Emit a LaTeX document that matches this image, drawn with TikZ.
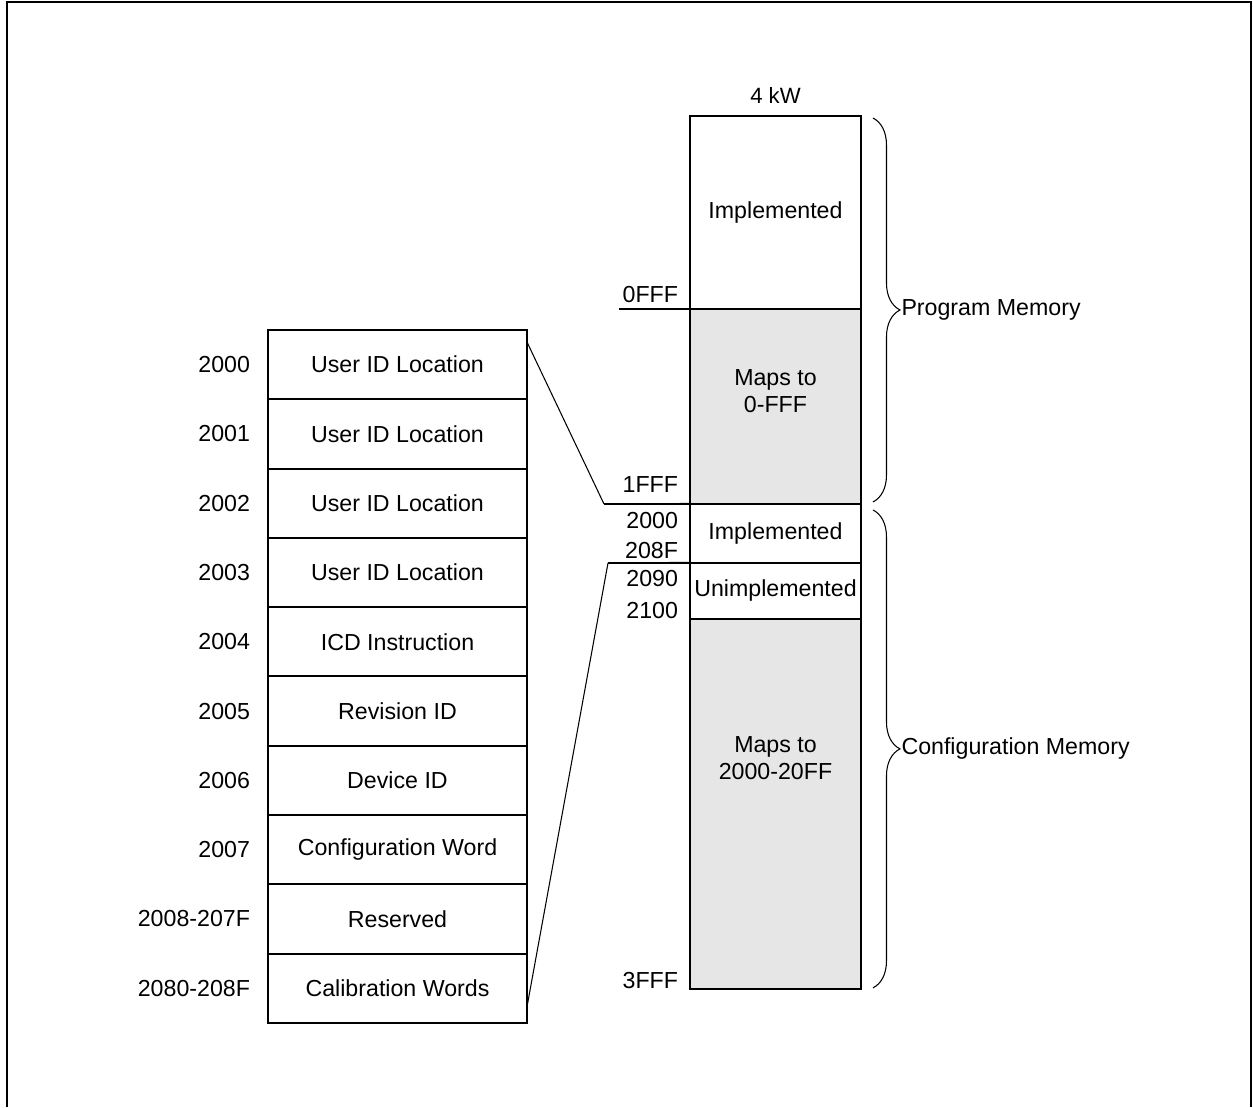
\documentclass[tikz,border=0pt]{standalone}
\usepackage{fontspec}
\setmainfont{Liberation Sans}
\usetikzlibrary{positioning, decorations.pathreplacing}
\definecolor{mapgray}{HTML}{E6E6E6}

\begin{document}
\begin{tikzpicture}[x=0.02cm, y=-0.02cm, node distance=0pt,
  every node/.style={font=\fontsize{13.2}{15.4}\selectfont},
  cell/.style={draw, line width=1.1pt, outer sep=0pt, inner sep=0pt, minimum width=5.18cm, minimum height=1.386cm},
  blk/.style={draw, line width=1.1pt, outer sep=0pt, inner sep=0pt, minimum width=3.42cm},
  mapped/.style={fill=mapgray},
  addr/.style={inner sep=0pt, outer sep=0pt},
  bar/.style={line width=1.1pt},
  link/.style={line width=0.6pt},
  brc/.style={decorate, decoration={brace, amplitude=0.54cm}, line width=0.6pt}]
  \useasboundingbox (0,0) rectangle (1253,1107);
  \draw[line width=1.1pt] (7,1107) -- (7,2) -- (1251,2) -- (1251,1107);

  \node[cell] (r0) at (397.5,364.65) {User ID Location};
  \node[cell, below=of r0] (r1) {User ID Location};
  \node[cell, below=of r1] (r2) {User ID Location};
  \node[cell, below=of r2] (r3) {User ID Location};
  \node[cell, below=of r3] (r4) {ICD Instruction};
  \node[cell, below=of r4] (r5) {Revision ID};
  \node[cell, below=of r5] (r6) {Device ID};
  \node[cell, below=of r6] (r7) {Configuration Word};
  \node[cell, below=of r7] (r8) {Reserved};
  \node[cell, below=of r8] (r9) {Calibration Words};

  \node[addr, left=0.36cm of r0] (a0) {2000};
  \node[addr, left=0.36cm of r1] (a1) {2001};
  \node[addr, left=0.36cm of r2] (a2) {2002};
  \node[addr, left=0.36cm of r3] (a3) {2003};
  \node[addr, left=0.36cm of r4] (a4) {2004};
  \node[addr, left=0.36cm of r5] (a5) {2005};
  \node[addr, left=0.36cm of r6] (a6) {2006};
  \node[addr, left=0.36cm of r7] (a7) {2007};
  \node[addr, left=0.36cm of r8] (a8) {2008-207F};
  \node[addr, left=0.36cm of r9] (a9) {2080-208F};

  \node[blk, minimum height=3.86cm] (p0) at (775.5,212.5) {Implemented};
  \node[blk, mapped, minimum height=3.9cm, below=of p0] (p1) {};
  \node[blk, minimum height=1.18cm, below=of p1] (c0) {Implemented};
  \node[blk, minimum height=1.12cm, below=of c0] (c1) {Unimplemented};
  \node[blk, mapped, minimum height=7.4cm, below=of c1] (c2) {};
  \node[align=center] (m0) at ([yshift=0.3cm]p1.center) {Maps to\\0-FFF};
  \node[align=center] (m1) at ([yshift=0.92cm]c2.center) {Maps to\\2000-20FF};
  \node[addr, above=0.26cm of p0, font=\fontsize{12.6}{14}\selectfont] (size) {4 kW};

  \node[addr, anchor=east] (b0fff) at (678,295) {0FFF};
  \node[addr, anchor=east] (b1fff) at (678,485) {1FFF};
  \node[addr, anchor=east] (b2000) at (678,520) {2000};
  \node[addr, anchor=east] (b208f) at (678,550) {208F};
  \node[addr, anchor=east] (b2090) at (678,578) {2090};
  \node[addr, anchor=east] (b2100) at (678,610) {2100};
  \node[addr, anchor=east] (b3fff) at (678,980) {3FFF};

  \coordinate (k0) at (619,309);
  \coordinate (k1) at (604,504);
  \coordinate (k2) at (608,563);
  \draw[bar] (k0) -- (p1.north west);
  \draw[bar] (k1) -- (p1.south west);
  \draw[bar] (k2) -- (c0.south west);
  \draw[link] ([yshift=-0.24cm]r0.north east) -- (k1);
  \draw[link] ([yshift=0.32cm]r9.south east) -- (k2);

  \draw[brc] ([xshift=0.24cm, yshift=-0.04cm]p0.north east) -- ([xshift=0.24cm, yshift=0.04cm]p1.south east)
    node[midway, right=0.56cm, inner sep=0pt] (pm) {Program Memory};
  \draw[brc] ([xshift=0.24cm, yshift=-0.12cm]c0.north east) -- ([xshift=0.24cm, yshift=0.02cm]c2.south east)
    node[midway, right=0.56cm, inner sep=0pt] (cm) {Configuration Memory};
\end{tikzpicture}
\end{document}
